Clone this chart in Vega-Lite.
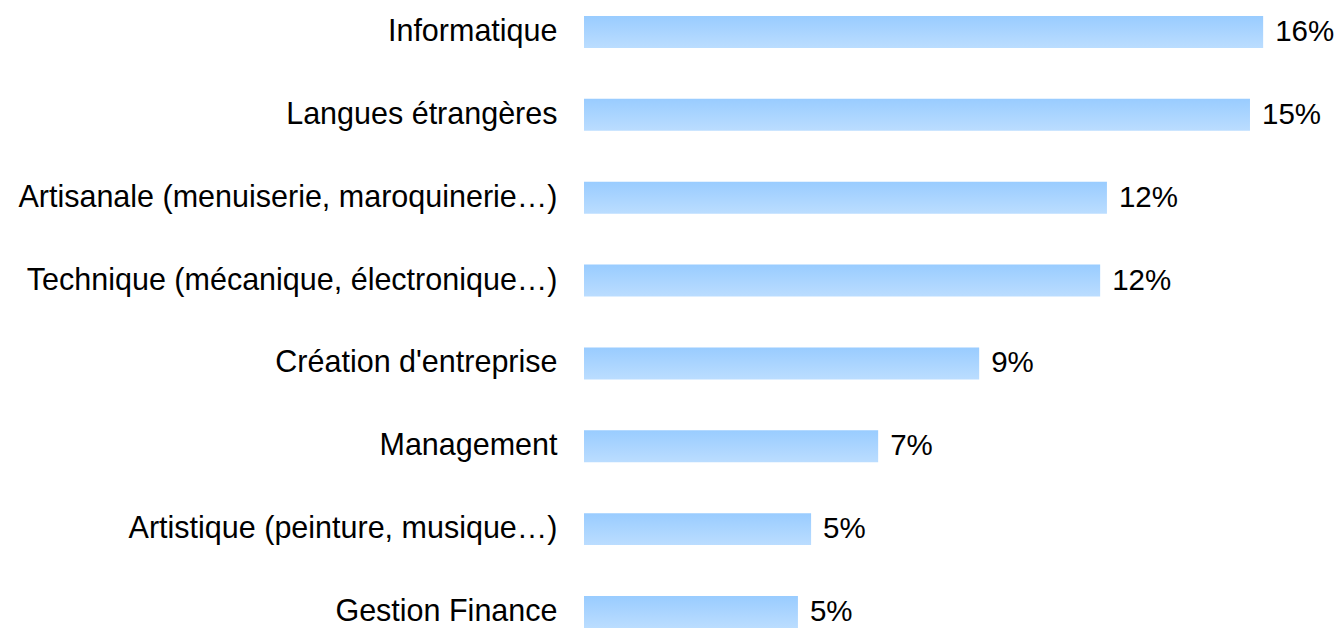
{
  "$schema": "https://vega.github.io/schema/vega-lite/v6.json",
  "width": 753,
  "height": 629,
  "autosize": {"type": "none"},
  "padding": {"left": 584, "top": 0, "right": 0, "bottom": 0},
  "background": "white",
  "config": {"view": {"stroke": null}, "font": "Liberation Sans"},
  "data": {
    "values": [
      {"domaine": "Informatique", "valeur": 16.0, "label": "16%"},
      {"domaine": "Langues étrangères", "valeur": 15.69, "label": "15%"},
      {"domaine": "Artisanale (menuiserie, maroquinerie…)", "valeur": 12.32, "label": "12%"},
      {"domaine": "Technique (mécanique, électronique…)", "valeur": 12.16, "label": "12%"},
      {"domaine": "Création d'entreprise", "valeur": 9.31, "label": "9%"},
      {"domaine": "Management", "valeur": 6.93, "label": "7%"},
      {"domaine": "Artistique (peinture, musique…)", "valeur": 5.35, "label": "5%"},
      {"domaine": "Gestion Finance", "valeur": 5.04, "label": "5%"}
    ]
  },
  "encoding": {
    "y": {
      "field": "domaine",
      "type": "nominal",
      "sort": null,
      "scale": {"paddingInner": 0.614, "paddingOuter": 0.1025, "align": 0.94},
      "axis": {
        "title": null,
        "domain": false,
        "ticks": false,
        "labelFontSize": 30.5,
        "labelColor": "#000000",
        "labelFont": "Liberation Sans",
        "labelPadding": 27,
        "labelLimit": 700
      }
    },
    "x": {
      "field": "valeur",
      "type": "quantitative",
      "scale": {"domain": [0, 17.74], "nice": false, "zero": true},
      "axis": null
    }
  },
  "layer": [
    {
      "mark": {
        "type": "bar",
        "color": {
          "gradient": "linear",
          "x1": 0, "y1": 0, "x2": 0, "y2": 1,
          "stops": [
            {"offset": 0, "color": "#99CCFF"},
            {"offset": 1, "color": "#BBDDFF"}
          ]
        }
      }
    },
    {
      "mark": {
        "type": "text",
        "align": "left",
        "baseline": "middle",
        "dx": 12,
        "fontSize": 29.5,
        "font": "Liberation Sans",
        "color": "#000000"
      },
      "encoding": {"text": {"field": "label"}}
    }
  ]
}
